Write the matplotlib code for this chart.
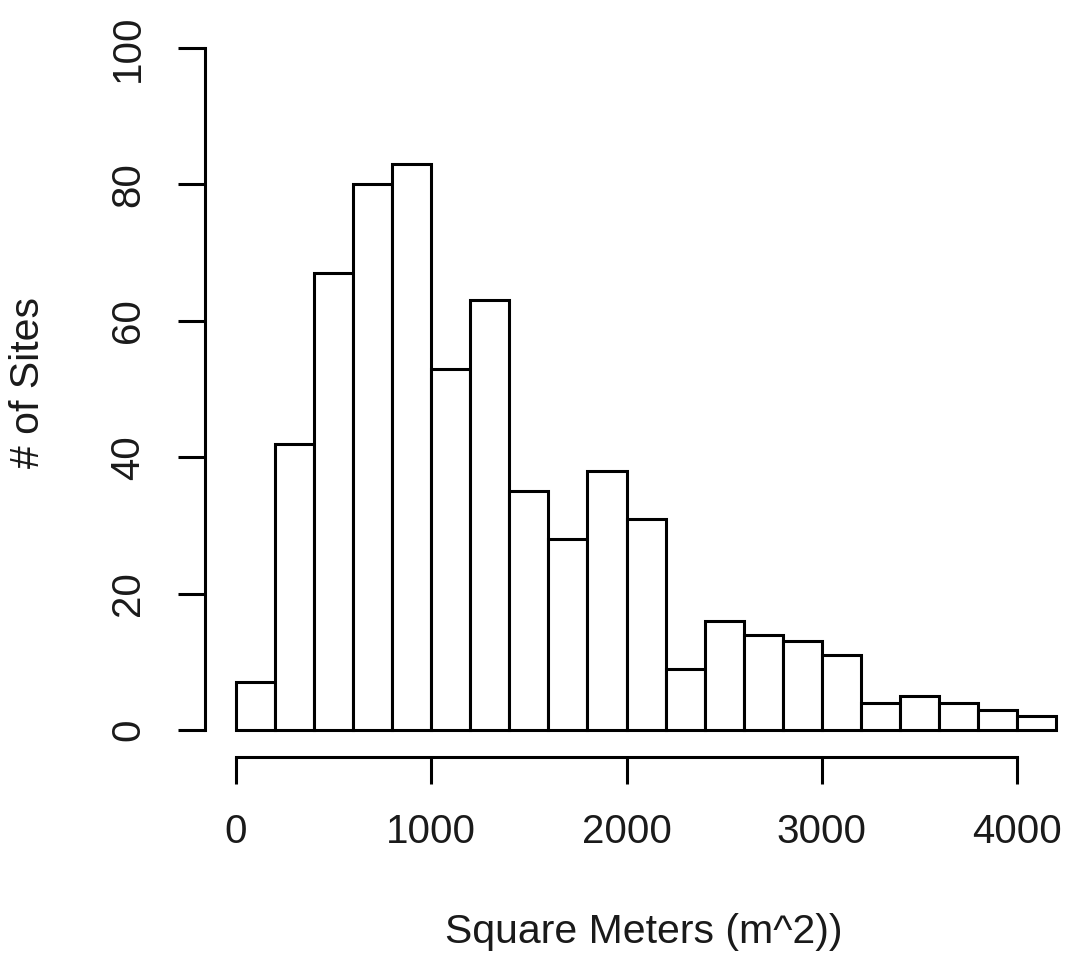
import numpy as np
import matplotlib.pyplot as plt

plt.rcParams["font.family"] = ["Liberation Sans", "DejaVu Sans"]

# histogram bins (width 200) and counts
bin_edges = np.arange(0, 4201, 200)
counts = [7, 42, 67, 80, 83, 53, 63, 35, 28, 38, 31, 9, 16, 14, 13, 11, 4, 5, 4, 3, 2]
x_ticks = [0, 1000, 2000, 3000, 4000]
y_ticks = [0, 20, 40, 60, 80, 100]

W, H = 1066, 956
fig = plt.figure(figsize=(W / 100, H / 100), dpi=100)
# axes box in pixels: left 205, right 1060, top 48, bottom 757
ax = fig.add_axes([205 / W, 1 - 757 / H, (1060 - 205) / W, (757 - 48) / H])

ax.bar(bin_edges[:-1], counts, width=200, align="edge",
       facecolor="white", edgecolor="black", linewidth=2.2)

ax.set_xlim(-158.8, 4220)
ax.set_ylim(-3.96, 100)

for s in ["top", "right"]:
    ax.spines[s].set_visible(False)
ax.spines["left"].set_bounds(0, 100)
ax.spines["bottom"].set_bounds(0, 4000)
ax.spines["left"].set_linewidth(2.2)
ax.spines["bottom"].set_linewidth(2.2)

ax.set_xticks(x_ticks)
ax.set_yticks(y_ticks)
ax.tick_params(axis="both", direction="out", length=19.5, width=2.2,
               labelsize=29, color="black", labelcolor="#1a1a1a")
ax.tick_params(axis="x", pad=21)
ax.tick_params(axis="y", pad=22)
for lab in ax.get_yticklabels():
    lab.set_rotation(90)
    lab.set_va("center")

fig.text(644 / W, 1 - 943 / H, "Square Meters (m^2))", ha="center", va="baseline",
         fontsize=29.5, color="#1a1a1a")
fig.text(28 / W, 1 - 383 / H, "# of Sites", ha="center", va="center", rotation=90,
         fontsize=29.5, color="#1a1a1a")

fig.savefig("out.png", dpi=100)
